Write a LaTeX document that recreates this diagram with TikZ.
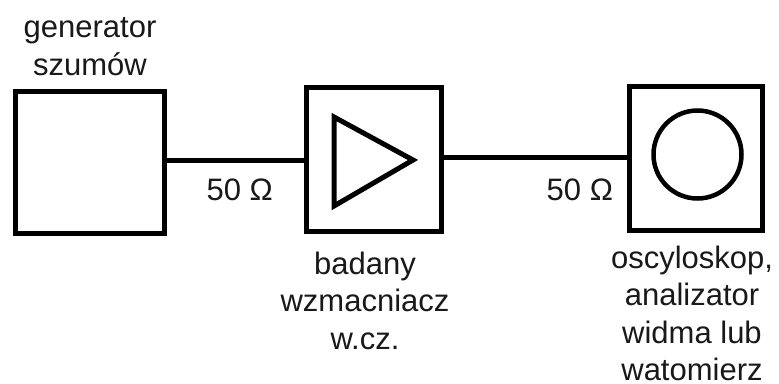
\documentclass[tikz,border=0pt]{standalone}
\usepackage{fontspec}
\setmainfont{Liberation Sans}
\begin{document}
\begin{tikzpicture}[x=1pt,y=-1pt,
  blk/.style={draw=black, line width=5pt, fill=white, inner sep=0pt},
  wire/.style={draw=black, line width=5pt},
  sym/.style={draw=black, line width=5pt, line join=miter},
  lbl/.style={font=\fontsize{31}{37.5}\selectfont, text=black!90, inner sep=0pt, align=center},
]
  \useasboundingbox[fill=white] (0,0) rectangle (779,383);

  % blocks
  \node[blk, minimum width=149pt, minimum height=142pt] (gen) at (89.5,162) {};
  \node[blk, minimum width=135pt, minimum height=143.5pt] (amp) at (373.5,159.25) {};
  \node[blk, minimum width=133pt, minimum height=144pt] (osc) at (695.5,158) {};

  % amplifier symbol and indicator circle
  \draw[sym] (334,117) -- (334,206) -- (413,160) -- cycle;
  \draw[black, line width=4.5pt] (697.5,154.5) circle[radius=44];

  % wires with impedance labels
  \coordinate (w1) at (0,160);
  \coordinate (w2) at (0,157.5);
  \draw[wire] (gen.east |- w1) -- node[lbl, pos=0.535, anchor=base, yshift=-40pt] (z1) {50 Ω} (amp.west |- w1);
  \draw[wire] (amp.east |- w2) -- node[lbl, pos=0.745, anchor=base, yshift=-42.5pt] (z2) {50 Ω} (osc.west |- w2);

  % captions (base anchor sits on the last line)
  \node[lbl, anchor=base] (tgen) at (90,75) {generator\\szumów};
  \node[lbl, anchor=base] (tamp) at (365,349) {badany\\wzmacniacz\\w.cz.};
  \node[lbl, anchor=base] (tosc) at (692,380.5) {oscyloskop,\\analizator\\widma lub\\watomierz};
\end{tikzpicture}
\end{document}
